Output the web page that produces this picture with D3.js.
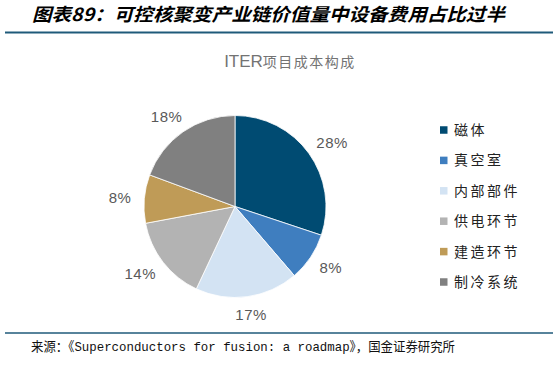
<!DOCTYPE html>
<html><head><meta charset="utf-8">
<script src="https://cdn.jsdelivr.net/npm/d3@7"></script>
<style>
html,body{margin:0;padding:0;background:#fff;}
svg{display:block;}
</style></head>
<body>
<script>
const categories = ["磁体","真空室","内部部件","供电环节","建造环节","制冷系统"];
const values = [28, 8, 17, 14, 8, 18];
const labels = ["28%","8%","17%","14%","8%","18%"];
const colors = ["#004B72","#3F7EBF","#D3E3F3","#B3B3B3","#BF9B57","#808080"];

const W = 559, H = 366;
const svg = d3.select("body").append("svg").attr("width", W).attr("height", H);

// header
svg.append("text").attr("x", 32).attr("y", 20.5)
  .attr("font-family", "'Noto Sans CJK SC', sans-serif")
  .attr("font-size", 18).attr("font-weight", "bold").attr("font-style", "italic")
  .attr("fill", "#000").attr("textLength", 473).attr("lengthAdjust","spacingAndGlyphs")
  .text("图表89：可控核聚变产业链价值量中设备费用占比过半");
svg.append("line").attr("x1", 5).attr("x2", 553).attr("y1", 32.5).attr("y2", 32.5)
  .attr("stroke", "#1F5A7A").attr("stroke-width", 2);

// chart title
const t = svg.append("text").attr("x", 290).attr("y", 67).attr("text-anchor","middle")
  .attr("fill","#737373");
t.append("tspan").attr("font-family","'Liberation Sans', Arial, sans-serif").attr("font-size",17).text("ITER");
t.append("tspan").attr("font-family","'Noto Sans CJK SC', sans-serif").attr("font-size",14).attr("letter-spacing",1.5).text("项目成本构成");

// pie
const cx = 235, cy = 206.5, R = 91, LR = 104;
const pie = d3.pie().sort(null).value(d => d);
const arcs = pie(values);
const arc = d3.arc().innerRadius(0).outerRadius(R);
const g = svg.append("g").attr("transform", `translate(${cx},${cy})`);
g.selectAll("path").data(arcs).join("path")
  .attr("d", arc).attr("fill", (d,i) => colors[i])
  .attr("stroke", "#fff").attr("stroke-width", 0.8);
g.selectAll("text").data(arcs).join("text")
  .attr("text-anchor","middle").attr("dy","0.36em")
  .attr("font-family","'Liberation Sans', Arial, sans-serif").attr("font-size",15)
  .attr("letter-spacing", 0.5)
  .attr("fill","#595959")
  .text((d,i) => labels[i])
  .attr("transform", function(d){
    const a = (d.startAngle + d.endAngle) / 2;
    const s = Math.sin(a), c = -Math.cos(a);
    const bb = this.getBBox();
    const x = s * LR + s * bb.width / 2;
    const y = c * LR + c * 11 / 2;
    return `translate(${x},${y})`;
  });

// legend
const ly = d3.scalePoint().domain(categories).range([130, 282]);
const lg = svg.append("g");
lg.selectAll("rect").data(categories).join("rect")
  .attr("x", 440).attr("y", d => ly(d) - 3.75).attr("width", 7.5).attr("height", 7.5)
  .attr("fill", (d,i) => colors[i]);
lg.selectAll("text").data(categories).join("text")
  .attr("x", 454).attr("y", d => ly(d)).attr("dy","0.36em")
  .attr("font-family","'Noto Sans CJK SC', sans-serif").attr("font-size",14)
  .attr("letter-spacing", 2.5).attr("fill","#222")
  .text(d => d);

// footer
svg.append("line").attr("x1", 5).attr("x2", 553).attr("y1", 333).attr("y2", 333)
  .attr("stroke", "#1F5A7A").attr("stroke-width", 1.5);
svg.append("text").attr("x", 31).attr("y", 350.5)
  .attr("font-family","'Liberation Mono', 'Noto Sans CJK SC', monospace").attr("font-size",13)
  .attr("fill","#111").attr("textLength", 424).attr("lengthAdjust","spacingAndGlyphs")
  .text("来源：《Superconductors for fusion: a roadmap》，国金证券研究所");
</script>
</body></html>
